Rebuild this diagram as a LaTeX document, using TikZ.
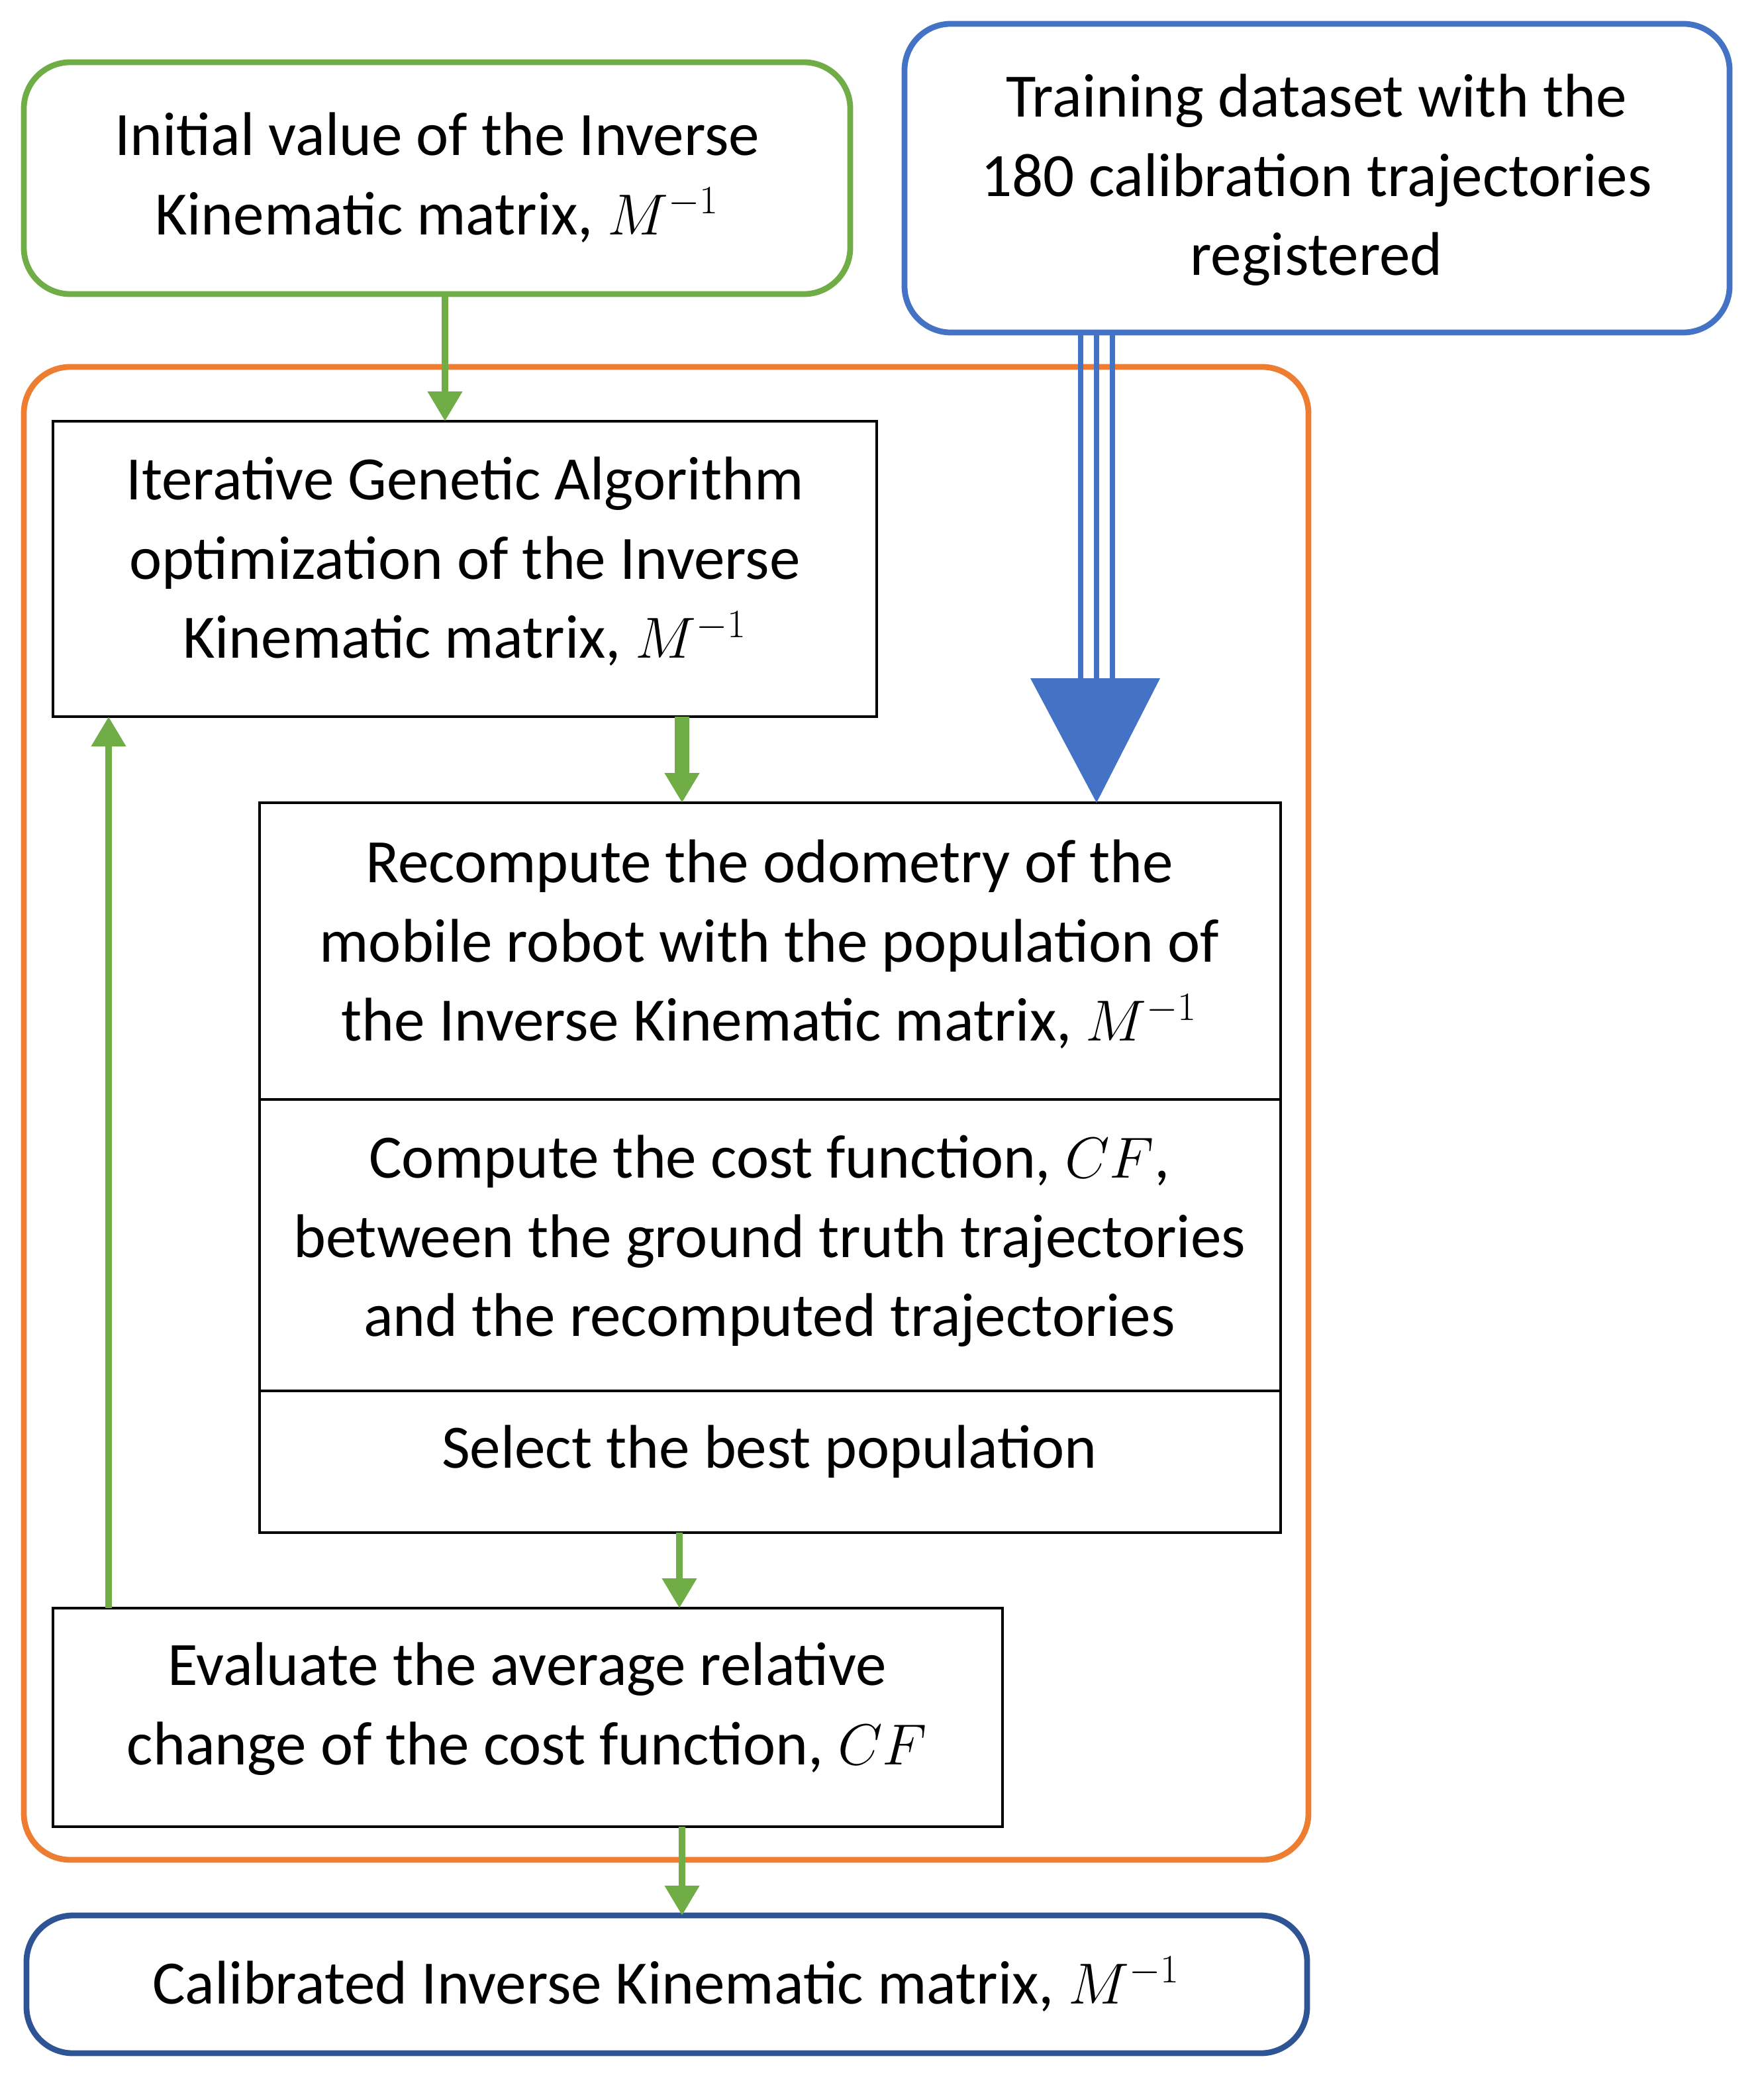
\documentclass[tikz,border=0pt]{standalone}
\usepackage{fontspec}
\setmainfont{Carlito}
\usetikzlibrary{arrows.meta}
\definecolor{cgreen}{RGB}{112,173,71}
\definecolor{cblue}{RGB}{68,114,196}
\definecolor{corange}{RGB}{237,125,49}
\definecolor{cdblue}{RGB}{47,84,150}
\begin{document}
\begin{tikzpicture}[x=0.02cm,y=-0.02cm,
  txt/.style={align=center,font=\fontsize{26.5}{34}\selectfont},
  box/.style={draw=black,line width=1.2pt},
  rbox/.style={line width=2.5pt,rounded corners=0.7cm},
  garr/.style={cgreen,line width=3pt,-{Triangle[length=0.45cm,width=0.5cm]}}]
\useasboundingbox (0,0) rectangle (1331.5,1574);
% outer frames
\draw[rbox,corange] (18,277) rectangle (988,1404);
\draw[rbox,cgreen] (18,47) rectangle (642,222);
\draw[rbox,cblue] (683,18) rectangle (1306,251);
\draw[rbox,cdblue] (20,1446) rectangle (987,1550);
\node[txt] (init) at (330,134) {Initial value of the Inverse\\Kinematic matrix, $M^{-1}$};
\node[txt] (data) at (994,136) {Training dataset with the\\180 calibration trajectories\\registered};
\node[txt] (cal) at (503,1498) {Calibrated Inverse Kinematic matrix, $M^{-1}$};
% process boxes
\draw[box] (40,318) rectangle (662,541);
\node[txt] (ga) at (351,424) {Iterative Genetic Algorithm\\optimization of the Inverse\\Kinematic matrix, $M^{-1}$};
\draw[box] (196,606) rectangle (967,830);
\node[txt] (odo) at (581,713) {Recompute the odometry of the\\mobile robot with the population of\\the Inverse Kinematic matrix, $M^{-1}$};
\draw[box] (196,830) rectangle (967,1050);
\node[txt] (cf) at (581,937) {Compute the cost function, $CF$,\\between the ground truth trajectories\\and the recomputed trajectories};
\draw[box] (196,1050) rectangle (967,1157);
\node[txt] (sel) at (581,1096) {Select the best population};
\draw[box] (40,1214) rectangle (757,1379);
\node[txt] (ev) at (398,1290) {Evaluate the average relative\\change of the cost function, $CF$};
% coordinates
\coordinate (gb) at (336,222); \coordinate (at) at (336,318);
\coordinate (ab) at (515,541); \coordinate (bt) at (515,606);
\coordinate (db) at (513,1157); \coordinate (et) at (513,1214);
\coordinate (el) at (82,1214); \coordinate (al) at (82,541);
\coordinate (ob) at (515,1379); \coordinate (ft) at (515,1446);
\coordinate (ds) at (828,251); \coordinate (dh) at (828,512); \coordinate (dt) at (828,606);
% arrows
\draw[garr] (gb) -- (at);
\draw[garr,line width=6pt] (ab) -- (bt);
\draw[garr] (db) -- (et);
\draw[garr] (el) -- (al);
\draw[garr] (ob) -- (ft);
\foreach \dx in {-12,0,12}
  \draw[cblue,line width=2.5pt] ([xshift=\dx*0.02cm]ds) -- ([xshift=\dx*0.02cm]dh);
\fill[cblue] ([xshift=-1cm]dh) -- ([xshift=0.96cm]dh) -- (dt) -- cycle;
\end{tikzpicture}
\end{document}
